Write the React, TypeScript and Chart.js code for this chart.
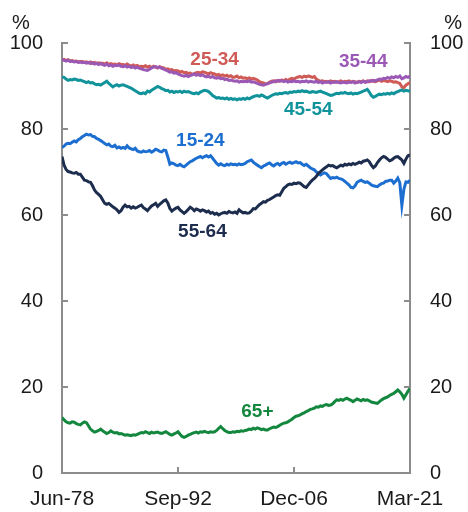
import React, { useEffect, useRef } from "react";
import { Chart, registerables } from "chart.js";

Chart.register(...registerables);

// Quarterly observations, Jun-78 .. Mar-21 (172 points)
const xTickLabels = ["Jun-78", "Sep-92", "Dec-06", "Mar-21"];
const xTickIdx = [0, 57, 114, 171];

const age2534 = [
  96.0, 96.2, 95.9, 96.1, 95.8, 95.9, 95.7, 95.8, 95.6, 95.7,
  95.7, 95.5, 95.6, 95.4, 95.6, 95.3, 95.5, 95.2, 95.4, 95.3,
  95.3, 95.1, 95.4, 95.0, 95.2, 95.0, 95.1, 94.9, 95.2, 95.0,
  95.0, 94.8, 95.1, 94.8, 94.7, 94.9, 94.6, 94.8, 94.5, 94.6,
  94.5, 94.7, 94.4, 94.6, 94.3, 94.6, 94.4, 94.2, 94.5, 94.3,
  94.2, 93.9, 94.0, 93.7, 93.8, 93.5, 93.6, 93.5, 93.2, 93.4,
  93.1, 93.2, 92.9, 93.0, 92.7, 92.9, 93.1, 93.2, 93.0, 93.3,
  93.2, 93.0, 92.8, 93.1, 92.9, 92.8, 92.5, 92.7, 92.4, 92.6,
  92.3, 92.5, 92.2, 92.4, 92.0, 92.1, 92.3, 91.9, 92.1, 91.8,
  91.9, 91.7, 91.9, 91.6, 91.8, 91.6, 91.4, 91.0, 90.8, 90.7,
  90.5, 90.6, 90.9, 91.1, 91.2, 91.0, 91.3, 91.1, 91.4, 91.2,
  91.5, 91.3, 91.6, 91.8, 91.6, 91.9, 92.1, 92.2, 92.0, 92.3,
  92.1, 92.3, 92.2, 92.0, 92.2, 91.6, 91.3, 91.1, 91.2, 91.0,
  91.1, 90.9, 91.2, 91.0, 91.1, 90.9, 91.0, 91.2, 90.9, 91.1,
  91.0, 91.2, 90.9, 91.1, 91.0, 90.8, 91.1, 91.0, 91.2, 90.9,
  91.2, 91.0, 91.3, 91.1, 91.0, 91.2, 91.4, 91.1, 91.3, 91.2,
  91.0, 91.2, 91.1, 90.9, 91.0, 90.8, 90.6, 89.8, 89.6, 90.2,
  90.5, 90.8,
];

const age3544 = [
  96.1, 96.0, 95.8, 96.0, 95.7, 95.8, 95.6, 95.7, 95.5, 95.6,
  95.4, 95.5, 95.3, 95.5, 95.2, 95.4, 95.1, 95.3, 95.0, 95.2,
  95.0, 94.8, 95.1, 94.7, 94.9, 94.6, 94.8, 94.7, 94.9, 94.6,
  94.5, 94.7, 94.4, 94.6, 94.3, 94.5, 94.2, 94.4, 94.1, 94.0,
  93.8, 93.7, 93.6, 93.9, 94.2, 94.4, 94.5, 94.3, 94.4, 94.1,
  93.9, 93.7, 93.5, 93.2, 93.3, 93.0, 93.1, 92.8, 92.6, 92.4,
  92.3, 92.5, 92.2, 92.4, 92.6, 92.8, 92.5, 92.7, 92.4, 92.6,
  92.3, 92.1, 92.3, 92.0, 92.2, 91.9, 91.8, 92.0, 91.7, 91.8,
  91.5, 91.6, 91.3, 91.4, 91.2, 91.1, 91.2, 90.9, 91.1, 91.0,
  91.1, 91.0, 91.2, 90.9, 91.0, 90.8, 90.6, 90.4, 90.3, 90.2,
  90.4, 90.5, 90.7, 90.9, 91.0, 91.2, 91.1, 91.3, 91.2, 91.0,
  91.2, 90.9, 91.1, 91.0, 91.2, 91.0, 91.1, 90.9, 91.1, 91.0,
  91.2, 90.9, 91.1, 91.0, 90.9, 91.1, 90.8, 91.0, 90.7, 90.9,
  90.8, 91.0, 90.7, 90.9, 90.8, 91.0, 90.8, 90.7, 90.9, 90.8,
  90.7, 90.9, 90.8, 91.0, 90.7, 90.9, 91.0, 90.8, 91.1, 90.9,
  91.0, 91.2, 91.1, 91.3, 91.2, 91.4, 91.6, 91.5, 91.8, 91.7,
  92.0, 91.8, 92.1, 91.9, 92.2, 92.0, 92.3, 91.7, 91.9, 92.2,
  92.0, 92.3,
];

const age4554 = [
  92.1, 92.0, 91.6, 91.3, 91.5, 91.4, 91.6, 91.5, 91.3, 91.4,
  91.2, 91.0, 90.8, 91.0, 90.7, 90.8, 90.5, 90.3, 90.4, 90.2,
  90.5, 90.8, 91.1, 90.6, 90.2, 89.8, 90.1, 90.3, 90.0, 90.2,
  90.3, 90.1, 89.9, 89.7, 89.5, 89.2, 88.9, 88.6, 88.3, 88.2,
  88.4, 88.2, 88.8, 88.6, 89.0, 89.3, 89.6, 89.9, 89.7, 89.4,
  89.2, 88.9, 89.0, 88.6, 88.8, 88.5, 88.7, 88.6, 88.8, 88.5,
  88.8, 88.6, 88.7, 88.5, 88.3, 88.2, 88.4, 88.2, 88.6, 88.8,
  89.0, 88.9, 88.7, 88.3, 87.8, 87.5, 87.2, 87.3, 87.1, 87.2,
  87.0, 87.2, 86.9, 87.1, 86.9, 87.0, 86.8, 87.0, 86.9, 87.1,
  86.9, 87.2, 87.0, 87.3, 87.5, 87.7, 87.8, 87.6, 87.9, 87.7,
  87.4, 87.2, 87.5, 87.8, 88.0, 88.2, 88.1, 88.3, 88.2, 88.4,
  88.5, 88.3, 88.6, 88.5, 88.7, 88.6, 88.8, 88.7, 88.9, 88.7,
  88.8, 88.6, 88.5, 88.7, 88.6, 88.5, 88.7, 88.8, 88.6, 88.4,
  88.2, 88.0, 87.8, 87.9, 88.1, 88.3, 88.2, 88.4, 88.3, 88.5,
  88.3, 88.2, 88.4, 88.1, 88.3, 88.2, 88.4, 88.6, 88.8, 89.0,
  89.2, 88.6, 87.8, 87.4, 87.6, 87.9, 88.1, 88.0, 88.2, 88.1,
  88.3, 88.1, 88.4, 88.2, 88.5, 88.7, 88.9, 89.1, 88.8, 89.0,
  88.9, 88.8,
];

const age1524 = [
  75.7, 76.0, 76.5, 76.7, 76.6, 76.9, 77.2, 77.0, 77.5, 77.8,
  78.2, 78.5, 78.8, 78.6, 78.7, 78.3, 78.2, 77.8, 77.6, 77.3,
  77.0, 76.6, 76.3, 76.5, 76.0, 75.9, 76.2, 75.6, 75.8, 75.5,
  75.7, 75.5, 76.1, 75.6, 75.4, 75.2, 75.5, 74.9, 74.7, 74.6,
  74.9, 74.7, 74.8, 75.0, 74.6, 74.9, 75.3, 75.1, 74.8, 74.7,
  75.1, 75.0, 73.5, 71.8, 72.1, 71.9, 71.6, 71.5, 71.8, 71.4,
  71.2, 71.6, 72.0, 72.4, 72.6, 72.9, 73.2, 73.4, 73.6, 73.3,
  73.6, 73.8, 73.5, 73.8, 73.2, 72.6, 72.0, 71.6, 71.9, 71.6,
  71.5, 71.8, 71.6, 71.9, 71.7, 71.8, 71.6, 71.9, 71.7, 71.8,
  72.0, 72.4, 72.6, 72.8, 72.3, 71.9, 71.6, 71.3, 71.0, 71.4,
  71.6, 71.9, 72.1, 71.7, 71.4, 71.8, 72.0, 71.6, 72.0, 72.2,
  71.8, 72.1, 72.3, 72.0, 72.2, 72.4, 72.1, 72.2, 71.8, 71.5,
  71.8, 71.4, 71.0, 70.7, 70.5, 70.0, 69.6, 69.3, 69.6, 69.8,
  69.6, 69.0, 68.5, 68.7, 68.6, 68.8, 68.5, 68.4, 68.2, 67.8,
  67.4, 67.0, 66.4, 66.3, 66.8, 67.6, 67.9, 68.1, 67.8, 67.6,
  67.7, 67.4, 67.0, 66.8, 66.7, 66.6, 67.0, 67.3, 67.4, 67.8,
  67.9, 68.1, 68.1, 67.4, 67.9, 68.6, 67.5, 62.3, 66.0, 67.7,
  67.6, 68.1,
];

const age5564 = [
  73.6, 71.6, 70.6, 70.1, 70.0, 69.8, 69.7, 69.9, 69.5, 69.5,
  68.8, 68.1, 68.0, 67.7, 67.6, 66.8, 65.8, 65.2, 64.8, 64.3,
  63.5, 62.7, 62.5, 62.7, 62.3, 61.9, 61.6, 61.2, 60.6, 61.0,
  61.8, 62.3, 61.9, 62.0, 61.6, 61.9, 61.6, 61.8, 62.1, 62.3,
  61.7, 61.4, 61.0, 61.6, 62.1, 62.4, 62.7, 62.0, 62.5, 62.9,
  63.3, 63.5, 62.8, 61.5, 60.9, 61.3, 61.6, 61.8, 61.2, 60.8,
  60.4, 60.8, 61.3, 61.8, 61.5, 61.0, 61.4, 61.2, 60.9, 61.2,
  61.0, 60.7, 60.9, 60.4, 60.6, 60.2, 60.4, 60.0, 60.3, 60.5,
  60.6, 60.4, 60.8, 60.6, 60.5, 60.7, 60.4, 61.2, 60.8, 60.5,
  60.6, 60.4, 60.5, 60.9, 61.5, 61.4, 61.9, 62.4, 62.7, 63.1,
  63.0, 63.4, 63.6, 63.9, 64.2, 64.5, 64.7, 64.6, 65.4, 66.2,
  66.6, 67.0, 67.2, 67.1, 67.4, 67.3, 67.5, 67.4, 67.0, 66.6,
  66.4, 67.0, 67.6, 68.1, 68.5, 69.0, 69.7, 70.1, 70.5, 70.9,
  71.2, 71.6, 71.4, 71.5, 71.2, 71.0, 71.3, 71.6, 71.4, 71.8,
  71.6, 71.9, 71.7, 72.0, 71.8, 72.0, 72.3, 72.1, 72.5, 72.6,
  72.8, 72.4, 71.6, 71.0, 71.4, 72.2, 72.8, 73.3, 73.6, 73.4,
  73.0, 72.6, 72.8, 73.2, 73.5, 73.6, 73.2, 72.8, 72.0, 73.0,
  73.8, 74.0,
];

const age65plus = [
  12.9, 12.4, 11.9, 11.7, 11.6, 11.9, 11.8, 11.5, 11.3, 11.2,
  11.6, 11.9, 11.7, 11.0, 10.2, 9.8, 9.5, 9.7, 9.9, 10.2,
  9.8, 9.5, 9.2, 9.4, 9.8, 9.5, 9.3, 9.4, 9.1, 9.2,
  9.0, 8.8, 8.9, 8.8, 8.7, 8.9, 8.8, 9.0, 9.2, 9.4,
  9.3, 9.6, 9.4, 9.2, 9.5, 9.3, 9.4, 9.5, 9.3, 9.2,
  9.4, 9.6, 9.3, 9.0, 8.8, 9.1, 9.3, 9.6, 9.0, 8.5,
  8.3, 8.5, 8.8, 9.0, 9.2, 9.4, 9.5, 9.3, 9.6, 9.5,
  9.7, 9.5, 9.4, 9.6, 9.5, 9.6, 9.9, 10.4, 10.8, 10.3,
  9.9, 9.6, 9.4, 9.4, 9.6, 9.5, 9.7, 9.6, 9.8, 9.7,
  9.9, 10.0, 10.2, 10.1, 10.4, 10.2, 10.5, 10.3, 10.1, 10.2,
  10.0, 10.0, 10.3, 10.5, 10.7, 10.6, 10.8, 11.1, 11.4, 11.6,
  11.7, 11.9, 12.2, 12.5, 12.9, 13.2, 13.3, 13.5, 13.8, 14.0,
  14.3, 14.5, 14.8, 14.9, 15.1, 15.4, 15.3, 15.6, 15.5, 15.8,
  15.9, 15.7, 15.8, 16.1, 16.6, 17.0, 16.9, 17.1, 16.9, 17.2,
  17.4, 17.1, 16.9, 16.6, 16.9, 17.2, 17.0, 16.8, 17.1, 16.9,
  17.0, 16.8, 16.5, 16.4, 16.3, 16.2, 16.6, 17.0, 17.3, 17.5,
  17.7, 18.0, 18.3, 18.5, 18.9, 19.3, 18.9, 18.3, 17.4, 18.2,
  19.0, 19.7,
];

const seriesNames = ["35-44", "25-34", "55-64", "15-24", "45-54", "65+"];
const seriesValues = [age3544, age2534, age5564, age1524, age4554, age65plus];
const seriesColors = ["#9b59b6", "#cf5a56", "#1d2d4e", "#1c6fd0", "#10939a", "#14873f"];
// label anchor (x index, y value)
const labelX = [148, 75, 69, 68, 121, 96];
const labelY = [95.6, 96.0, 56.0, 77.2, 84.4, 14.2];

const AXIS = "#8c8c8c";
const FONT = "'Liberation Sans', Arial, sans-serif";

export default function App() {
  const ref = useRef<HTMLCanvasElement | null>(null);

  useEffect(() => {
    if (!ref.current) return;

    const overlay = {
      id: "overlay",
      afterDraw(chart: any) {
        const ctx = chart.ctx;
        const { left, right, bottom } = chart.chartArea;
        const xs = chart.scales.x;
        const ys = chart.scales.y;
        ctx.save();
        // inward tick marks
        ctx.strokeStyle = AXIS;
        ctx.lineWidth = 2;
        ctx.beginPath();
        [20, 40, 60, 80, 100].forEach((v) => {
          const py = Math.round(ys.getPixelForValue(v));
          ctx.moveTo(left, py);
          ctx.lineTo(left + 6, py);
          ctx.moveTo(right - 6, py);
          ctx.lineTo(right, py);
        });
        [57, 114].forEach((v) => {
          const px = Math.round(xs.getPixelForValue(v));
          ctx.moveTo(px, bottom);
          ctx.lineTo(px, bottom - 6);
        });
        ctx.stroke();
        // % units
        ctx.fillStyle = "#1a1a1a";
        ctx.font = `20px ${FONT}`;
        ctx.textBaseline = "middle";
        ctx.textAlign = "left";
        ctx.fillText("%", 12, 23);
        ctx.textAlign = "right";
        ctx.fillText("%", 462, 23);
        // series labels
        ctx.font = `bold 19px ${FONT}`;
        ctx.textAlign = "center";
        seriesNames.forEach((n, i) => {
          ctx.fillStyle = seriesColors[i];
          ctx.fillText(n, xs.getPixelForValue(labelX[i]), ys.getPixelForValue(labelY[i]));
        });
        ctx.restore();
      },
    };

    const chart = new Chart(ref.current, {
      type: "line",
      data: {
        datasets: seriesNames.map((n, i) => ({
          label: n,
          data: seriesValues[i].map((v, k) => ({ x: k, y: v })),
          borderColor: seriesColors[i],
          borderWidth: 3,
          pointRadius: 0,
          tension: 0,
          fill: false,
        })),
      },
      options: {
        animation: false,
        responsive: false,
        layout: { padding: { top: 43, left: 0, right: 0, bottom: 0 } },
        plugins: { legend: { display: false }, tooltip: { enabled: false } },
        scales: {
          x: {
            type: "linear",
            min: 0,
            max: 171,
            afterBuildTicks: (s: any) => {
              s.ticks = xTickIdx.map((v) => ({ value: v }));
            },
            afterFit: (s: any) => {
              s.height = 39;
            },
            ticks: {
              autoSkip: false,
              maxRotation: 0,
              padding: 14,
              color: "#1a1a1a",
              font: { family: FONT, size: 21 },
              callback: (v: any) => {
                const k = xTickIdx.indexOf(Number(v));
                return k >= 0 ? xTickLabels[k] : "";
              },
            },
            grid: { display: false, drawTicks: false },
            border: { display: true, color: AXIS, width: 2 },
          },
          y: {
            position: "left",
            min: 0,
            max: 100,
            afterFit: (s: any) => {
              s.width = 62;
            },
            ticks: {
              stepSize: 20,
              padding: 19,
              color: "#1a1a1a",
              font: { family: FONT, size: 20 },
            },
            grid: { display: false, drawTicks: false },
            border: { display: true, color: AXIS, width: 2 },
          },
          y2: {
            position: "right",
            min: 0,
            max: 100,
            afterFit: (s: any) => {
              s.width = 58;
            },
            ticks: {
              stepSize: 20,
              padding: 20,
              color: "#1a1a1a",
              font: { family: FONT, size: 20 },
            },
            grid: { display: false, drawTicks: false },
            border: { display: true, color: AXIS, width: 2 },
          },
        },
      },
      plugins: [overlay],
    } as any);

    return () => chart.destroy();
  }, []);

  return (
    <div style={{ position: "fixed", left: 0, top: 0, width: 468, height: 512, background: "#fff" }}>
      <canvas ref={ref} width={468} height={512} style={{ display: "block", width: 468, height: 512 }} />
    </div>
  );
}
